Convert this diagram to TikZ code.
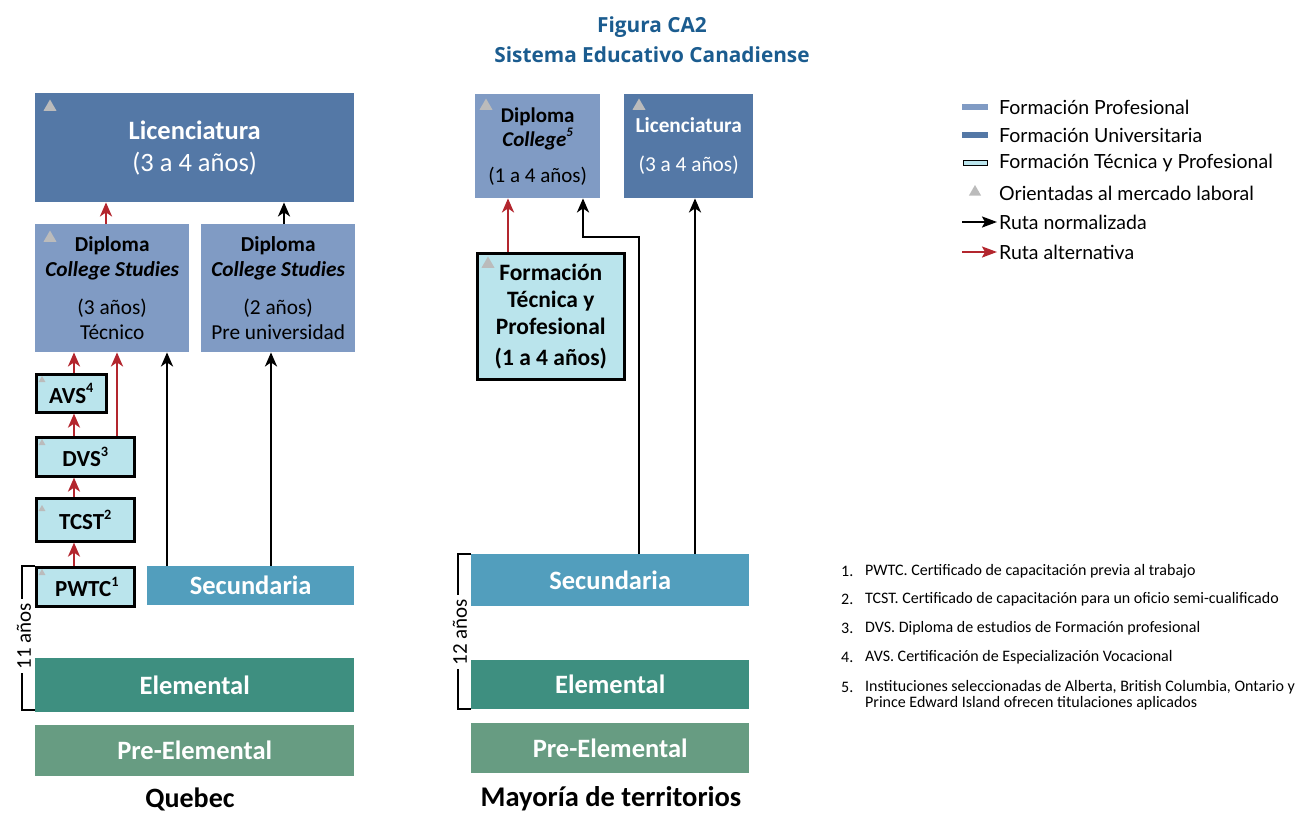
\documentclass[tikz,border=0pt]{standalone}
\usepackage{fontspec}
\setmainfont{Carlito}
\newfontfamily\latofont{Lato}
\newfontfamily\titlefont{Open Sans}
\usetikzlibrary{arrows.meta,shapes.geometric,calc}
\definecolor{uni}{HTML}{5478A6}
\definecolor{prof}{HTML}{809BC4}
\definecolor{tec}{HTML}{BAE4EC}
\definecolor{sec}{HTML}{529EBD}
\definecolor{elem}{HTML}{3E8F80}
\definecolor{pree}{HTML}{679C82}
\definecolor{ttl}{HTML}{1B5C8F}
\definecolor{alt}{HTML}{B3262E}
\definecolor{trig}{HTML}{BBBBBB}
\newcommand{\sups}[1]{\raisebox{0.45em}{\scalebox{0.62}{#1}}}
\begin{document}
\begin{tikzpicture}[x=1pt,y=-1pt,
  box/.style={rectangle, inner sep=0pt, anchor=north west, align=center},
  unibox/.style={box, fill=uni, text=white},
  profbox/.style={box, fill=prof, text=black},
  tecbox/.style={box, fill=tec, draw=black, line width=2.6pt, text=black},
  bandbox/.style={box, text=white, font=\fontsize{26.5}{30}\selectfont\bfseries},
  bigtri/.style={regular polygon, regular polygon sides=3, fill=trig, inner sep=0pt, minimum size=15pt},
  smalltri/.style={regular polygon, regular polygon sides=3, fill=trig, inner sep=0pt, minimum size=8pt},
  norm/.style={line width=2.5pt, black, -{Stealth[length=14pt,width=12pt,inset=4pt]}},
  altr/.style={line width=2.5pt, alt, -{Stealth[length=14pt,width=12pt,inset=4pt]}},
  brk/.style={line width=2.8pt, black},
  fn/.style={anchor=west, inner sep=0pt, font=\fontsize{16}{16}\selectfont},
  leg/.style={anchor=west, inner sep=0pt, font=\latofont\fontsize{19.5}{20}\selectfont},
]
\useasboundingbox (0,0) rectangle (1296,815);

% title
\node[inner sep=0pt, text=ttl, font=\titlefont\bfseries\fontsize{20.8}{30}\selectfont, align=center] (title) at (652,40) {Figura CA2\\Sistema Educativo Canadiense};

% ---------------- Quebec ----------------
\node[unibox, minimum width=319pt, minimum height=109pt, font=\fontsize{26.5}{32}\selectfont] (licL) at (35,93) {\textbf{Licenciatura}\\(3 a 4 años)};
\node[bigtri] (tLicL) at (50,107) {};

\node[profbox, minimum width=154pt, minimum height=128pt, font=\fontsize{21.3}{25}\selectfont] (dipL) at (35,224) {\textbf{Diploma}\\\textbf{\textit{College Studies}}\\[13pt](3 años)\\Técnico};
\node[bigtri] (tDipL) at (50,238) {};
\node[profbox, minimum width=154pt, minimum height=128pt, font=\fontsize{21.3}{25}\selectfont] (dipR) at (201,224) {\textbf{Diploma}\\\textbf{\textit{College Studies}}\\[13pt](2 años)\\Pre universidad};

\node[tecbox, minimum width=70pt, minimum height=38pt, font=\fontsize{23}{24}\selectfont\bfseries] (avs) at (35,373) {AVS\sups{4}};
\node[smalltri] (tAvs) at (42,380) {};
\node[tecbox, minimum width=98pt, minimum height=39pt, font=\fontsize{23}{24}\selectfont\bfseries] (dvs) at (35,436) {DVS\sups{3}};
\node[smalltri] (tDvs) at (42,443) {};
\node[tecbox, minimum width=98pt, minimum height=43pt, font=\fontsize{23}{24}\selectfont\bfseries] (tcst) at (35,497) {TCST\sups{2}};
\node[smalltri] (tTcst) at (42,509) {};
\node[tecbox, minimum width=98pt, minimum height=39pt, font=\fontsize{23}{24}\selectfont\bfseries] (pwtc) at (35,566) {\hspace*{3pt}PWTC\sups{1}};
\node[smalltri] (tPwtc) at (42,573) {};

\node[bandbox, fill=sec, minimum width=207pt, minimum height=39pt] (secL) at (147,566) {Secundaria};
\node[bandbox, fill=elem, minimum width=319pt, minimum height=54pt] (eleL) at (35,658) {Elemental};
\node[bandbox, fill=pree, minimum width=319pt, minimum height=51pt] (preL) at (35,725) {Pre-Elemental};
\node[inner sep=0pt, font=\fontsize{28}{30}\selectfont\bfseries] (quebec) at (190,799) {Quebec};

% arrows Quebec
\coordinate (xa) at (74,0);
\coordinate (xb) at (117,0);
\coordinate (xc) at (167,0);
\coordinate (xd) at (271,0);
\coordinate (xe) at (106,0);
\coordinate (xf) at (284,0);
\draw[altr] (dipL.north -| xe) -- (licL.south -| xe);
\draw[norm] (dipR.north -| xf) -- (licL.south -| xf);
\draw[altr] (avs.north -| xa) -- (dipL.south -| xa);
\draw[altr] (dvs.north -| xa) -- (avs.south -| xa);
\draw[altr] (tcst.north -| xa) -- (dvs.south -| xa);
\draw[altr] (pwtc.north -| xa) -- (tcst.south -| xa);
\draw[altr] (dvs.north -| xb) -- (dipL.south -| xb);
\draw[norm] (secL.north -| xc) -- (dipL.south -| xc);
\draw[norm] (secL.north -| xd) -- (dipR.south -| xd);

% bracket 11 años
\coordinate (bq1) at (35,566);
\coordinate (bq2) at (22,566);
\coordinate (bq3) at (22,710);
\coordinate (bq4) at (35,710);
\draw[brk] (bq1) -- (bq2) -- (bq3) -- (bq4);
\node[fill=white, inner sep=4pt, rotate=90, font=\fontsize{21}{22}\selectfont] (yrsQ) at (24,636) {11 años};

% ---------------- Mayoria ----------------
\node[profbox, minimum width=125pt, minimum height=104pt, font=\fontsize{21}{24}\selectfont] (dipC) at (475,94) {\textbf{Diploma}\\\textbf{\textit{College}}\sups{\textit{\textbf{5}}}\\[12pt](1 a 4 años)};
\node[bigtri] (tDipC) at (486,106) {};
\node[unibox, minimum width=129pt, minimum height=104pt, font=\fontsize{21.3}{39}\selectfont] (licR) at (624,94) {\textbf{Licenciatura}\\(3 a 4 años)};
\node[bigtri] (tLicR) at (639,106) {};
\node[tecbox, minimum width=147pt, minimum height=126pt, font=\fontsize{23.5}{27}\selectfont\bfseries] (ftp) at (476,252) {Formación\\Técnica y\\Profesional\\[4pt](1 a 4 años)};
\node[bigtri] (tFtp) at (488,264) {};

\node[bandbox, fill=sec, minimum width=278pt, minimum height=52pt] (secR) at (471,554) {Secundaria};
\node[bandbox, fill=elem, minimum width=278pt, minimum height=49pt] (eleR) at (471,660) {Elemental};
\node[bandbox, fill=pree, minimum width=278pt, minimum height=50pt] (preR) at (471,723) {Pre-Elemental};
\node[inner sep=0pt, font=\fontsize{28.5}{30}\selectfont\bfseries] (mayor) at (611,799) {Mayoría de territorios};

\coordinate (xg) at (508,0);
\coordinate (xh) at (583,0);
\coordinate (xi) at (639,0);
\coordinate (xj) at (695,0);
\coordinate (yk) at (0,237);
\draw[altr] (ftp.north -| xg) -- (dipC.south -| xg);
\draw[norm] (secR.north -| xi) -- (xi |- yk) -- (xh |- yk) -- (dipC.south -| xh);
\draw[norm] (secR.north -| xj) -- (licR.south -| xj);

% bracket 12 años
\coordinate (br1) at (471,554);
\coordinate (br2) at (458,554);
\coordinate (br3) at (458,709);
\coordinate (br4) at (471,709);
\draw[brk] (br1) -- (br2) -- (br3) -- (br4);
\node[fill=white, inner sep=4pt, rotate=90, font=\fontsize{21}{22}\selectfont] (yrsR) at (460,632) {12 años};

% ---------------- legend ----------------
\node[box, fill=prof, minimum width=26pt, minimum height=6pt, anchor=west] (l1) at (962,107) {};
\node[box, fill=uni, minimum width=26pt, minimum height=6pt, anchor=west] (l2) at (962,135) {};
\node[box, fill=tec, draw=black, line width=1.2pt, minimum width=24pt, minimum height=5pt, anchor=west] (l3) at (963,163) {};
\node[smalltri, minimum size=14pt] (l4) at (975,192) {};
\coordinate (l5a) at (962,222);
\coordinate (l5b) at (997,222);
\coordinate (l6a) at (962,252);
\coordinate (l6b) at (997,252);
\draw[line width=2.2pt, black, -{Stealth[length=15pt,width=11pt,inset=3pt]}] (l5a) -- (l5b);
\draw[line width=2.2pt, alt, -{Stealth[length=15pt,width=11pt,inset=3pt]}] (l6a) -- (l6b);
\node[leg] (lt1) at (999,107) {Formación Profesional};
\node[leg] (lt2) at (999,135) {Formación Universitaria};
\node[leg] (lt3) at (999,163) {Formación Técnica y Profesional};
\node[leg] (lt4) at (999,193) {Orientadas al mercado laboral};
\node[leg] (lt5) at (999,222) {Ruta normalizada};
\node[leg] (lt6) at (999,252) {Ruta alternativa};

% ---------------- footnotes ----------------
\node[fn] (n1) at (841,571) {1.};
\node[fn] (f1) at (865,571) {PWTC. Certificado de capacitación previa al trabajo};
\node[fn] (n2) at (841,599) {2.};
\node[fn] (f2) at (865,599) {TCST. Certificado de capacitación para un oficio semi-cualificado};
\node[fn] (n3) at (841,628) {3.};
\node[fn] (f3) at (865,628) {DVS. Diploma de estudios de Formación profesional};
\node[fn] (n4) at (841,657) {4.};
\node[fn] (f4) at (865,657) {AVS. Certificación de Especialización Vocacional};
\node[fn] (n5) at (841,687) {5.};
\node[fn] (f5) at (865,687) {Instituciones seleccionadas de Alberta, British Columbia, Ontario y};
\node[fn] (f5b) at (865,703) {Prince Edward Island ofrecen titulaciones aplicados};
\end{tikzpicture}
\end{document}
